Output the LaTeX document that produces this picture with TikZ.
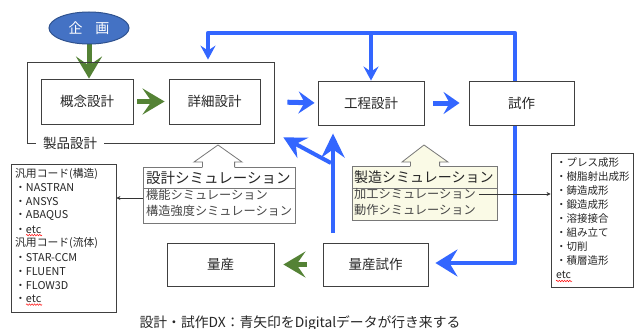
\documentclass[tikz,border=0pt]{standalone}
\usepackage{fontspec}
\setmainfont{Noto Sans CJK JP}
\usetikzlibrary{arrows.meta,calc,shapes.geometric,decorations.pathmorphing}
\pgfdeclarelayer{bg}
\pgfsetlayers{bg,main}
\definecolor{bluearr}{RGB}{51,102,255}
\definecolor{greenarr}{RGB}{84,130,53}
\definecolor{ellfill}{RGB}{68,114,196}
\definecolor{elldraw}{RGB}{47,82,143}
\definecolor{txt}{RGB}{38,38,38}
\definecolor{boxline}{RGB}{64,64,64}
\definecolor{simline}{RGB}{120,120,120}
\definecolor{simtxt}{RGB}{70,70,70}
\definecolor{yel}{RGB}{250,250,230}
\tikzset{
  fs/.style={font=\fontsize{#1}{#1}\selectfont},
  procbox/.style={draw=boxline, line width=0.9pt, fill=white, text=txt, fs=13.5, inner sep=0pt},
  listbox/.style={draw=boxline, line width=0.8pt, fill=white, inner sep=0pt},
  simbox/.style={draw=simline, line width=0.8pt, fill=white, inner sep=0pt},
  listtxt/.style={anchor=west, fs=10.8, text=txt, inner sep=0pt},
  simtitle/.style={anchor=west, fs=14.5, text=txt, inner sep=0pt},
  simitem/.style={anchor=west, fs=12.2, text=simtxt, inner sep=0pt},
  greenarrow/.style={draw=greenarr, line width=5pt, -{Stealth[length=22pt,width=26pt,inset=9pt]}},
  bluehead/.style={draw=bluearr, line width=5pt, -{Stealth[length=16pt,width=22pt,inset=6pt]}},
  blueline/.style={draw=bluearr, line width=4.5pt},
  squig/.style={draw=red, line width=0.45pt, decorate, decoration={snake, amplitude=0.8pt, segment length=2.6pt}},
  thinarrow/.style={draw=black!80, line width=0.7pt}
}
\begin{document}
\begin{tikzpicture}[x=1pt,y=-1pt]
\useasboundingbox (0,0) rectangle (634,329);
\begin{pgfonlayer}{bg}
\fill[white] (0,0) rectangle (634,329);
\end{pgfonlayer}

% ellipse
\node[ellipse, draw=elldraw, line width=1pt, fill=ellfill, minimum width=80pt, minimum height=32pt, inner sep=0pt, text=white, fs=14] (kikaku) at (89,28) {企\hspace{0.9em}画};

% product design outer box
\node[draw=boxline, line width=0.8pt, minimum width=247pt, minimum height=81pt, inner sep=0pt] (seihin) at (150.5,102.5) {};
\node[fill=white, fs=13.5, text=txt, inner xsep=7pt, inner ysep=1pt] (seihinlbl) at (70,143) {製品設計};

% process boxes
\node[procbox, minimum width=92pt, minimum height=45pt] (gainen) at (87,101.5) {概念設計};
\node[procbox, minimum width=91pt, minimum height=45pt] (shousai) at (214.5,101.5) {詳細設計};
\node[procbox, minimum width=106pt, minimum height=44pt] (koutei) at (371,103) {工程設計};
\node[procbox, minimum width=105pt, minimum height=44pt] (shisaku) at (521.5,103) {試作};
\node[procbox, minimum width=107pt, minimum height=43pt] (ryousan) at (220.5,264.5) {量産};
\node[procbox, minimum width=105pt, minimum height=43pt] (rshisaku) at (375.5,264.5) {量産試作};

% simulation boxes
\node[simbox, minimum width=152pt, minimum height=56pt] (simA) at (219,195) {};
\draw[simline, line width=0.8pt] (simA.west |- 0,188) -- (simA.east |- 0,188);
\path[fill=white] (202.4,168.5) -- (202.4,162) -- (194,162) -- (218,145) -- (242,162) -- (234.6,162) -- (234.6,168.5) -- cycle;
\draw[simline, line width=0.8pt, line join=miter] (202.4,167) -- (202.4,162) -- (194,162) -- (218,145) -- (242,162) -- (234.6,162) -- (234.6,167);
\node[simtitle] (simAt) at (146,178) {設計シミュレーション};
\node[simitem] (simA1) at (146,195) {機能シミュレーション};
\node[simitem] (simA2) at (146,211) {構造強度シミュレーション};

\node[simbox, fill=yel, minimum width=145pt, minimum height=54pt] (simB) at (424.5,193) {};
\draw[simline, line width=0.8pt] (simB.west |- 0,188) -- (simB.east |- 0,188);
\path[fill=yel] (410.4,167.5) -- (410.4,162) -- (402,162) -- (424,145) -- (448,162) -- (439.6,162) -- (439.6,167.5) -- cycle;
\draw[simline, line width=0.8pt, line join=miter] (410.4,166) -- (410.4,162) -- (402,162) -- (424,145) -- (448,162) -- (439.6,162) -- (439.6,166);
\node[simtitle, fs=14] (simBt) at (354,177) {製造シミュレーション};
\node[simitem] (simB1) at (354,194) {加工シミュレーション};
\node[simitem] (simB2) at (354,210) {動作シミュレーション};

% list boxes
\node[listbox, minimum width=105pt, minimum height=148pt] (lbox) at (63.5,238) {};
\foreach \t [count=\i] in {汎用コード(構造),・NASTRAN,・ANSYS,・ABAQUS,・etc,汎用コード(流体),・STAR-CCM,・FLUENT,・FLOW3D,・etc}
  \node[listtxt] (l\i) at (15,{174+(\i-1)*13.9}) {\t};
\draw[squig] ($(l5.west)+(11,5.5)$) -- ++(16,0);
\draw[squig] ($(l10.west)+(11,5.5)$) -- ++(16,0);

\node[listbox, minimum width=82pt, minimum height=134pt] (rbox) at (592,220) {};
\foreach \t [count=\i] in {・プレス成形,・樹脂射出成形,・鋳造成形,・鍛造成形,・溶接接合,・組み立て,・切削,・積層造形}
  \node[listtxt, fs=10.5] (r\i) at (556,{163+(\i-1)*14}) {\t};
\node[listtxt, fs=10.5] (r9) at (556,275) {etc};
\draw[squig] ($(r9.west)+(0,6)$) -- ++(16,0);

% thin connectors
\draw[thinarrow, -{Stealth[length=4pt,width=4pt]}] ([yshift=-3pt]simA.west) -- ([yshift=-3pt]simA.west -| lbox.east);
\draw[thinarrow, -{Stealth[length=4pt,width=4pt]}] ([xshift=3pt]simB1.east) -- (simB1.east -| rbox.west);

% caption
\node[fs=13.8, text=txt, inner sep=0pt] (caption) at (300,323) {設計・試作DX：青矢印をDigitalデータが行き来する};

% connectors (background)
\coordinate (tl) at (208,33);
\coordinate (tr) at (515,33);
\coordinate (br) at (515,263);
\coordinate (us) at (333,233);
\coordinate (ub) at (331,163);
\begin{pgfonlayer}{bg}
\draw[greenarrow] (kikaku.south) -- (kikaku.south |- gainen.north);
\draw[greenarrow, shorten <=4pt, shorten >=4pt] (gainen.east) -- (shousai.west);
\draw[greenarrow, shorten <=16pt, shorten >=9pt] (rshisaku.west) -- (ryousan.east);
\draw[bluehead, shorten <=27pt, shorten >=3pt] (shousai.east) -- (koutei.west);
\draw[bluehead, shorten <=9pt, shorten >=9pt] (koutei.east) -- (shisaku.west);
\draw[blueline, line join=round, {Stealth[length=14pt,width=15pt,inset=5pt]}-{Stealth[length=22pt,width=27pt,inset=8pt]}, shorten <=2pt, shorten >=7pt]
  (seihin.north -| tl) -- (tl) -- (tr) -- (br) -- (br -| rshisaku.east);
\draw[blueline, -{Stealth[length=14pt,width=15pt,inset=5pt]}] (koutei.north |- tl) -- (koutei.north);
\draw[draw=bluearr, line width=4pt, -{Stealth[length=24pt,width=23pt,inset=8pt]}, shorten >=8pt] (us) -- (us |- koutei.south);
\draw[draw=bluearr, line width=4pt, -{Stealth[length=22pt,width=23pt,inset=8pt]}] (ub) -- ($(seihin.south east)+(9,-6)$);
\end{pgfonlayer}
\end{tikzpicture}
\end{document}
